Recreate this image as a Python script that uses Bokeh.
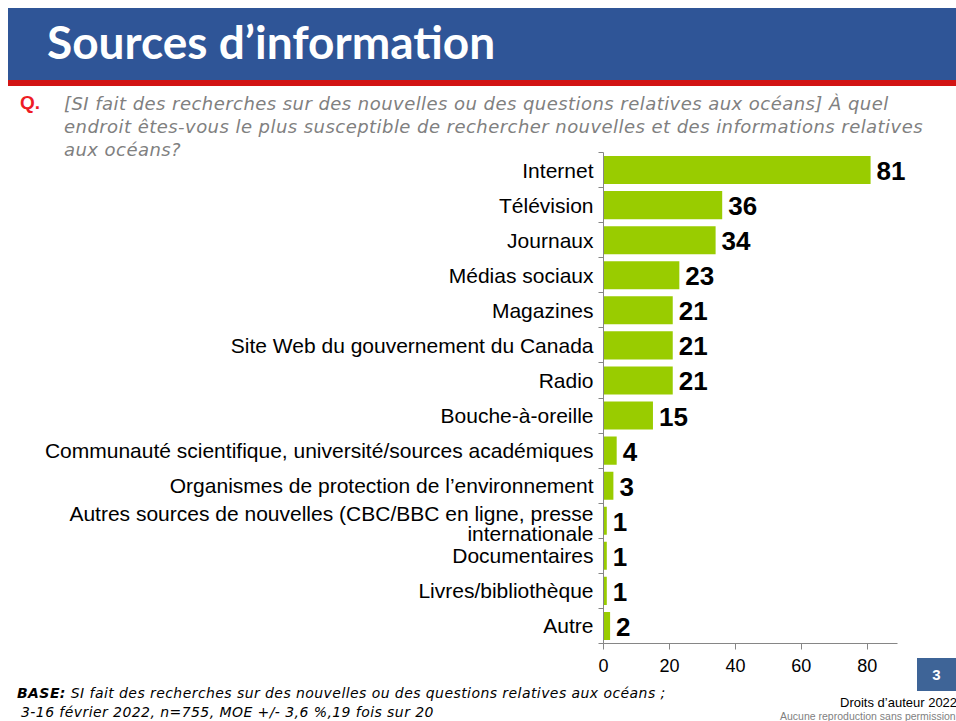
from bokeh.plotting import figure
from bokeh.models import ColumnDataSource, Range1d, FixedTicker, LabelSet, Div
from bokeh.layouts import column, row
from bokeh.core.properties import value
from bokeh.embed import file_html
from bokeh.resources import INLINE

categories = ["Internet", "Télévision", "Journaux", "Médias sociaux", "Magazines",
              "Site Web du gouvernement du Canada", "Radio", "Bouche-à-oreille",
              "Communauté scientifique, université/sources académiques",
              "Organismes de protection de l\u2019environnement",
              "Autres sources de nouvelles (CBC/BBC en ligne, presse\ninternationale",
              "Documentaires", "Livres/bibliothèque", "Autre"]
values = [81, 36, 34, 23, 21, 21, 21, 15, 4, 3, 1, 1, 1, 2]
x_ticks = [0, 20, 40, 60, 80]

title_text = "Sources d\u2019information"
question_lines = ["[SI fait des recherches sur des nouvelles ou des questions relatives aux océans] À quel",
                  "endroit êtes-vous le plus susceptible de rechercher nouvelles et des informations relatives",
                  "aux océans?"]
base_label = "BASE:"
base_lines = ["SI fait des recherches sur des nouvelles ou des questions relatives aux océans ;",
              "3-16 février 2022, n=755, MOE +/- 3,6 %,19 fois sur 20"]
page_number = "3"
copyright_lines = ["Droits d\u2019auteur 2022", "Aucune reproduction sans permission"]

W, H = 956, 721
HEAD_H, FIG_H = 152, 531
FOOT_H = H - HEAD_H - FIG_H
FIG_W = 917
n = len(categories)
ypos = [n - 1 - i for i in range(n)]

src = ColumnDataSource(dict(y=ypos, v=values, vt=[str(v) for v in values]))

# ---------- header ----------
header_html = f"""
<div style="position:relative;width:{W}px;height:{HEAD_H}px;overflow:visible;">
 <div style="position:absolute;left:8px;top:8px;width:{W-8}px;height:72px;background:#2F5597;"></div>
 <div style="position:absolute;left:8px;top:80px;width:{W-8}px;height:6px;background:#D21414;"></div>
 <div style="position:absolute;left:47px;top:19px;height:46px;line-height:46px;font-family:Lato;font-weight:bold;font-size:46px;color:white;white-space:nowrap;">{title_text}</div>
 <div style="position:absolute;left:20px;top:92px;line-height:22.5px;font-family:'Liberation Sans';font-weight:bold;font-size:19px;color:#EE1C25;">Q.</div>
 <div style="position:absolute;left:64px;top:92px;line-height:23px;font-family:'DejaVu Sans';font-style:italic;font-size:18px;letter-spacing:0.45px;color:#808080;white-space:nowrap;">{'<br>'.join(question_lines)}</div>
</div>"""
header = Div(text=header_html, width=W, height=HEAD_H, margin=0)

# ---------- chart ----------
p = figure(width=FIG_W, height=FIG_H, x_range=Range1d(0, 92.5), y_range=Range1d(-0.5, n - 0.5),
           output_backend="svg", toolbar_location=None, margin=0,
           min_border_left=603, min_border_right=9, min_border_top=0, min_border_bottom=40)
p.outline_line_color = None
p.grid.visible = False
p.background_fill_color = None
p.border_fill_color = None

p.hbar(y="y", right="v", left=0, height=0.8, source=src, fill_color="#99CC00", line_color=None)

# category labels as y tick labels; a two-line label is split over two label ticks
tick_pos = []
overrides = {}
for y, c in zip(ypos, categories):
    parts = c.split("\n")
    if len(parts) == 1:
        tick_pos.append(y)
        overrides[y] = c
    else:
        y1, y2 = y + 0.2, y - 0.36
        tick_pos += [y1, y2]
        overrides[y1] = parts[0]
        overrides[y2] = parts[1]

p.yaxis.ticker = FixedTicker(ticks=tick_pos, minor_ticks=[i - 0.5 for i in range(n + 1)])
p.yaxis.major_label_overrides = overrides
p.yaxis.major_tick_line_color = None
p.yaxis.major_tick_out = 0
p.yaxis.major_tick_in = 0
p.yaxis.minor_tick_out = 5
p.yaxis.minor_tick_in = 0
p.yaxis.minor_tick_line_color = "#868686"
p.yaxis.axis_line_color = "#868686"
p.yaxis.major_label_text_font = "Liberation Sans"
p.yaxis.major_label_text_font_size = "21px"
p.yaxis.major_label_text_color = "black"
p.yaxis.major_label_standoff = 5

p.xaxis.ticker = FixedTicker(ticks=x_ticks)
p.xaxis.bounds = (0, 89.3)
p.xaxis.major_tick_out = 6
p.xaxis.major_tick_in = 0
p.xaxis.minor_tick_line_color = None
p.xaxis.axis_line_color = "#868686"
p.xaxis.major_tick_line_color = "#868686"
p.xaxis.major_label_text_font = "Liberation Sans"
p.xaxis.major_label_text_font_size = "18px"
p.xaxis.major_label_text_color = "black"
p.xaxis.major_label_standoff = 9

p.add_layout(LabelSet(x="v", y="y", text="vt", source=src, x_offset=6, y_offset=-1,
                      text_align="left", text_baseline="middle",
                      text_font=value("Liberation Sans"), text_font_style="bold",
                      text_font_size="26px", text_color="black"))

side_html = f"""
<div style="position:relative;width:{W-FIG_W}px;height:{FIG_H}px;">
 <div style="position:absolute;left:0;top:506px;width:{W-FIG_W}px;height:33px;line-height:33px;background:#3E6497;color:white;text-align:center;font-family:'Liberation Sans';font-weight:bold;font-size:15px;">{page_number}</div>
</div>"""
side = Div(text=side_html, width=W - FIG_W, height=FIG_H, margin=0)

# ---------- footer ----------
footer_html = f"""
<div style="position:relative;width:{W}px;height:{FOOT_H}px;overflow:visible;">
 <div style="position:absolute;left:17px;top:2px;line-height:17px;font-family:'DejaVu Sans';font-style:italic;font-size:14px;letter-spacing:0.43px;color:black;white-space:nowrap;"><b>{base_label}</b> {base_lines[0]}</div>
 <div style="position:absolute;left:21px;top:21px;line-height:17px;font-family:'DejaVu Sans';font-style:italic;font-size:14px;letter-spacing:0.43px;color:black;white-space:nowrap;">{base_lines[1]}</div>
 <div style="position:absolute;left:840px;top:13px;line-height:14px;font-family:'Liberation Sans';font-size:13px;color:black;white-space:nowrap;">{copyright_lines[0]}</div>
 <div style="position:absolute;left:780px;top:29px;line-height:9px;font-family:'Liberation Sans';font-size:10.5px;color:#7F7F7F;white-space:nowrap;">{copyright_lines[1]}</div>
</div>"""
footer = Div(text=footer_html, width=W, height=FOOT_H, margin=0)

layout = column(header, row(p, side, spacing=0, margin=0), footer, spacing=0, margin=0)

open("out.html", "w").write(file_html(layout, INLINE))
